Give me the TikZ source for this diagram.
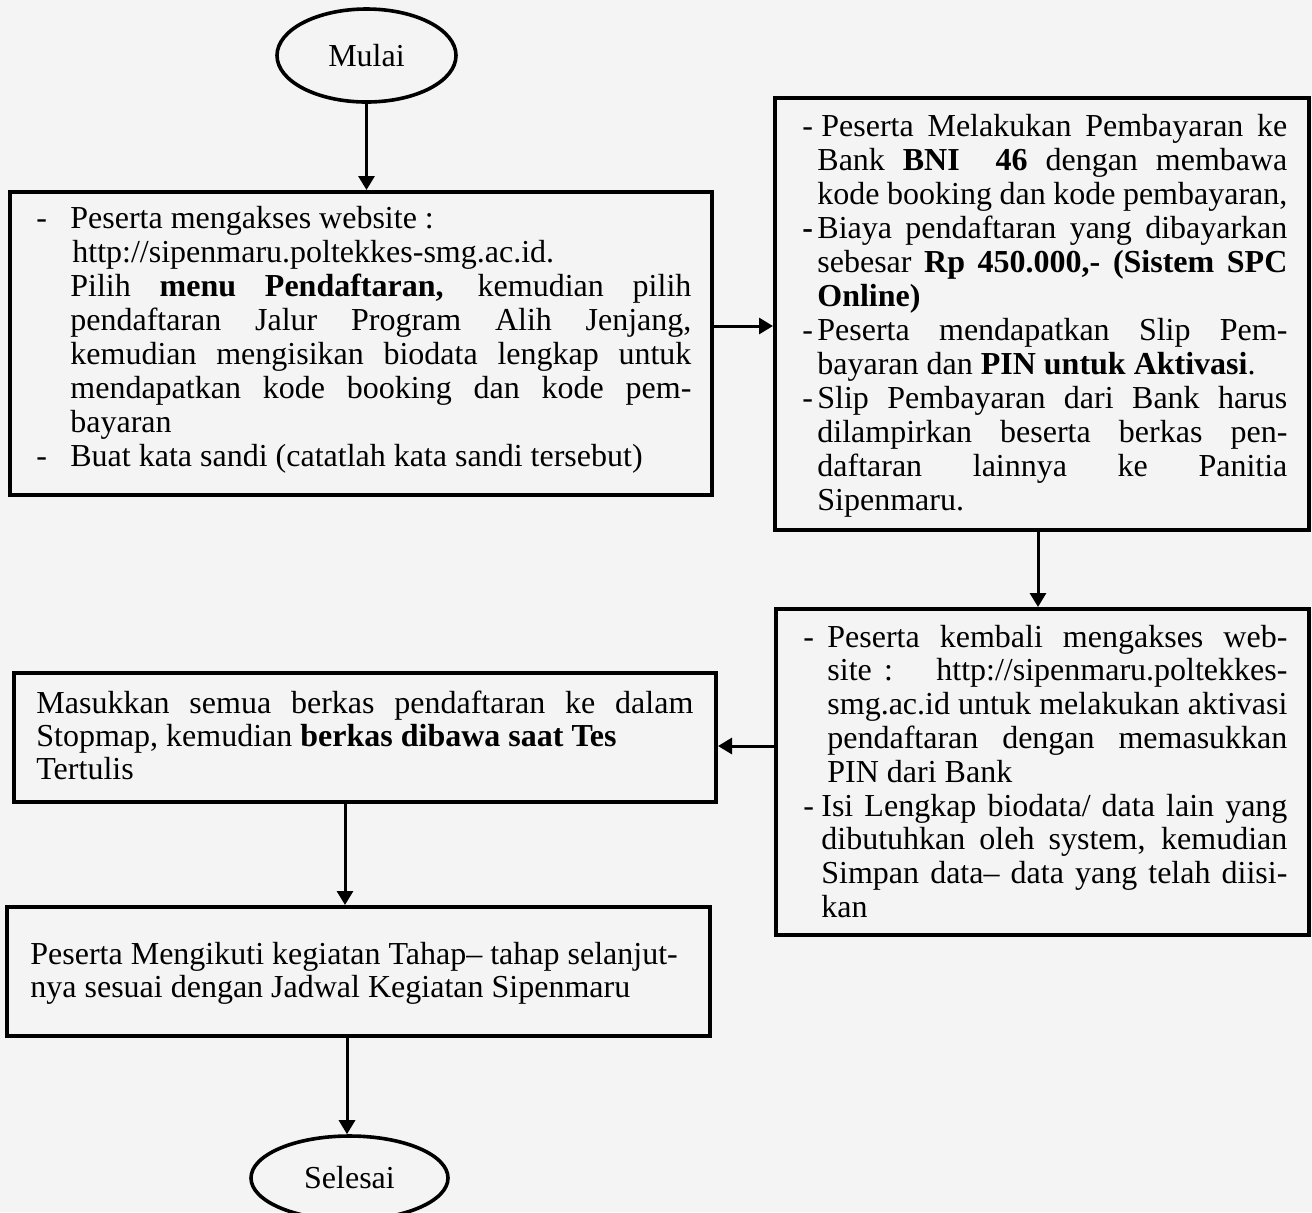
\documentclass[tikz,border=0pt]{standalone}
\usepackage{fontspec}
\setmainfont{Liberation Serif}
\usetikzlibrary{arrows.meta,shapes.geometric}
\newlength\px \setlength\px{0.5pt}
\newcommand\jline[2]{\hbox to #1\px{#2}}
\newcommand\ind[2]{\hbox to #1\px{#2\hss}}
\definecolor{bgc}{RGB}{244,244,244}
\tikzset{
  box/.style={draw, line width=2pt, inner sep=0pt},
  term/.style={ellipse, draw, line width=1.8pt, inner sep=0pt, font=\fontsize{16pt}{17pt}\selectfont},
  txt/.style={inner sep=0pt, anchor=base west, font=\fontsize{16pt}{17pt}\selectfont},
  arr/.style={-{Triangle[width=8pt,length=7pt]}, line width=1.5pt}
}
\begin{document}
\begin{tikzpicture}[x=0.5pt,y=-0.5pt]
\clip (0,0) rectangle (1312,1212);
\fill[bgc] (0,0) rectangle (1312,1212);

% terminals
\node[term, minimum width=179\px, minimum height=93\px] (m) at (366.5,55.5) {Mulai};
\node[term, minimum width=197\px, minimum height=84\px] (s) at (349.5,1178) {Selesai};

% boxes
\node[box, minimum width=702\px, minimum height=303\px] (b1) at (361,343.5) {};
\node[box, minimum width=534\px, minimum height=432\px] (b2) at (1042,314) {};
\node[box, minimum width=533\px, minimum height=326\px] (b3) at (1042.5,772) {};
\node[box, minimum width=702\px, minimum height=129\px] (b4) at (365,737.5) {};
\node[box, minimum width=703\px, minimum height=129\px] (b5) at (358.5,971.5) {};

% texts
\node[txt] (t1) at (36,228) {\vtop{\baselineskip=17pt
  \hbox{\ind{34}{-}Peserta mengakses website :}
  \hbox{\ind{36}{}http://sipenmaru.poltekkes-smg.ac.id.}
  \hbox{\ind{34}{}\jline{621}{Pilih \textbf{menu Pendaftaran,} kemudian pilih}}
  \hbox{\ind{34}{}\jline{621}{pendaftaran Jalur Program Alih Jenjang,}}
  \hbox{\ind{34}{}\jline{621}{kemudian mengisikan biodata lengkap untuk}}
  \hbox{\ind{34}{}\jline{621}{mendapatkan kode booking dan kode pem-}}
  \hbox{\ind{34}{}bayaran}
  \hbox{\ind{34}{-}Buat kata sandi (catatlah kata sandi tersebut)}
}};

\node[txt] (t2) at (802,136) {\vtop{\baselineskip=17pt
  \hbox{\ind{19}{-}\jline{466}{Peserta Melakukan Pembayaran ke}}
  \hbox{\ind{15}{}\jline{470}{Bank \textbf{BNI\ \ 46} dengan membawa}}
  \hbox{\ind{15}{}\jline{470}{kode booking dan kode pembayaran,}}
  \hbox{\ind{15}{\textbf{-}}\jline{470}{Biaya pendaftaran yang dibayarkan}}
  \hbox{\ind{15}{}\jline{470}{sebesar \textbf{Rp 450.000,- (Sistem SPC}}}
  \hbox{\ind{15}{}\textbf{Online)}}
  \hbox{\ind{15}{-}\jline{470}{Peserta mendapatkan Slip Pem-}}
  \hbox{\ind{15}{}bayaran dan \textbf{PIN untuk Aktivasi}.}
  \hbox{\ind{15}{-}\jline{470}{Slip Pembayaran dari Bank harus}}
  \hbox{\ind{15}{}\jline{470}{dilampirkan beserta berkas pen-}}
  \hbox{\ind{15}{}\jline{470}{daftaran lainnya ke Panitia}}
  \hbox{\ind{15}{}Sipenmaru.}
}};

\node[txt] (t3) at (803,647) {\vtop{\baselineskip=16.9pt
  \hbox{\ind{24}{-}\jline{460}{Peserta kembali mengakses web-}}
  \hbox{\ind{24}{}\jline{460}{site : \ \ http://sipenmaru.poltekkes-}}
  \hbox{\ind{24}{}\jline{460}{smg.ac.id untuk melakukan aktivasi}}
  \hbox{\ind{24}{}\jline{460}{pendaftaran dengan memasukkan}}
  \hbox{\ind{24}{}PIN dari Bank}
  \hbox{\ind{18}{-}\jline{466}{Isi Lengkap biodata/ data lain yang}}
  \hbox{\ind{18}{}\jline{466}{dibutuhkan oleh system, kemudian}}
  \hbox{\ind{18}{}\jline{466}{Simpan data– data yang telah diisi-}}
  \hbox{\ind{18}{}kan}
}};

\node[txt] (t4) at (36,713) {\vtop{\baselineskip=16.5pt
  \hbox{\jline{657}{Masukkan semua berkas pendaftaran ke dalam}}
  \hbox{Stopmap, kemudian \textbf{berkas dibawa saat Tes}}
  \hbox{Tertulis}
}};

\node[txt] (t5) at (30,964) {\vtop{\baselineskip=16.5pt
  \hbox{Peserta Mengikuti kegiatan Tahap– tahap selanjut-}
  \hbox{nya sesuai dengan Jadwal Kegiatan Sipenmaru}
}};

% connectors
\coordinate (y12) at (0,326);
\coordinate (x23) at (1038,0);
\coordinate (y34) at (0,746);
\coordinate (x45) at (345,0);
\coordinate (x5s) at (347,0);
\draw[arr] (m.south) -- (m.south |- b1.north);
\draw[arr] (b1.east |- y12) -- (b2.west |- y12);
\draw[arr] (x23 |- b2.south) -- (x23 |- b3.north);
\draw[arr] (b3.west |- y34) -- (b4.east |- y34);
\draw[arr] (x45 |- b4.south) -- (x45 |- b5.north);
\draw[arr] (x5s |- b5.south) -- (x5s |- s.north);
\end{tikzpicture}
\end{document}
